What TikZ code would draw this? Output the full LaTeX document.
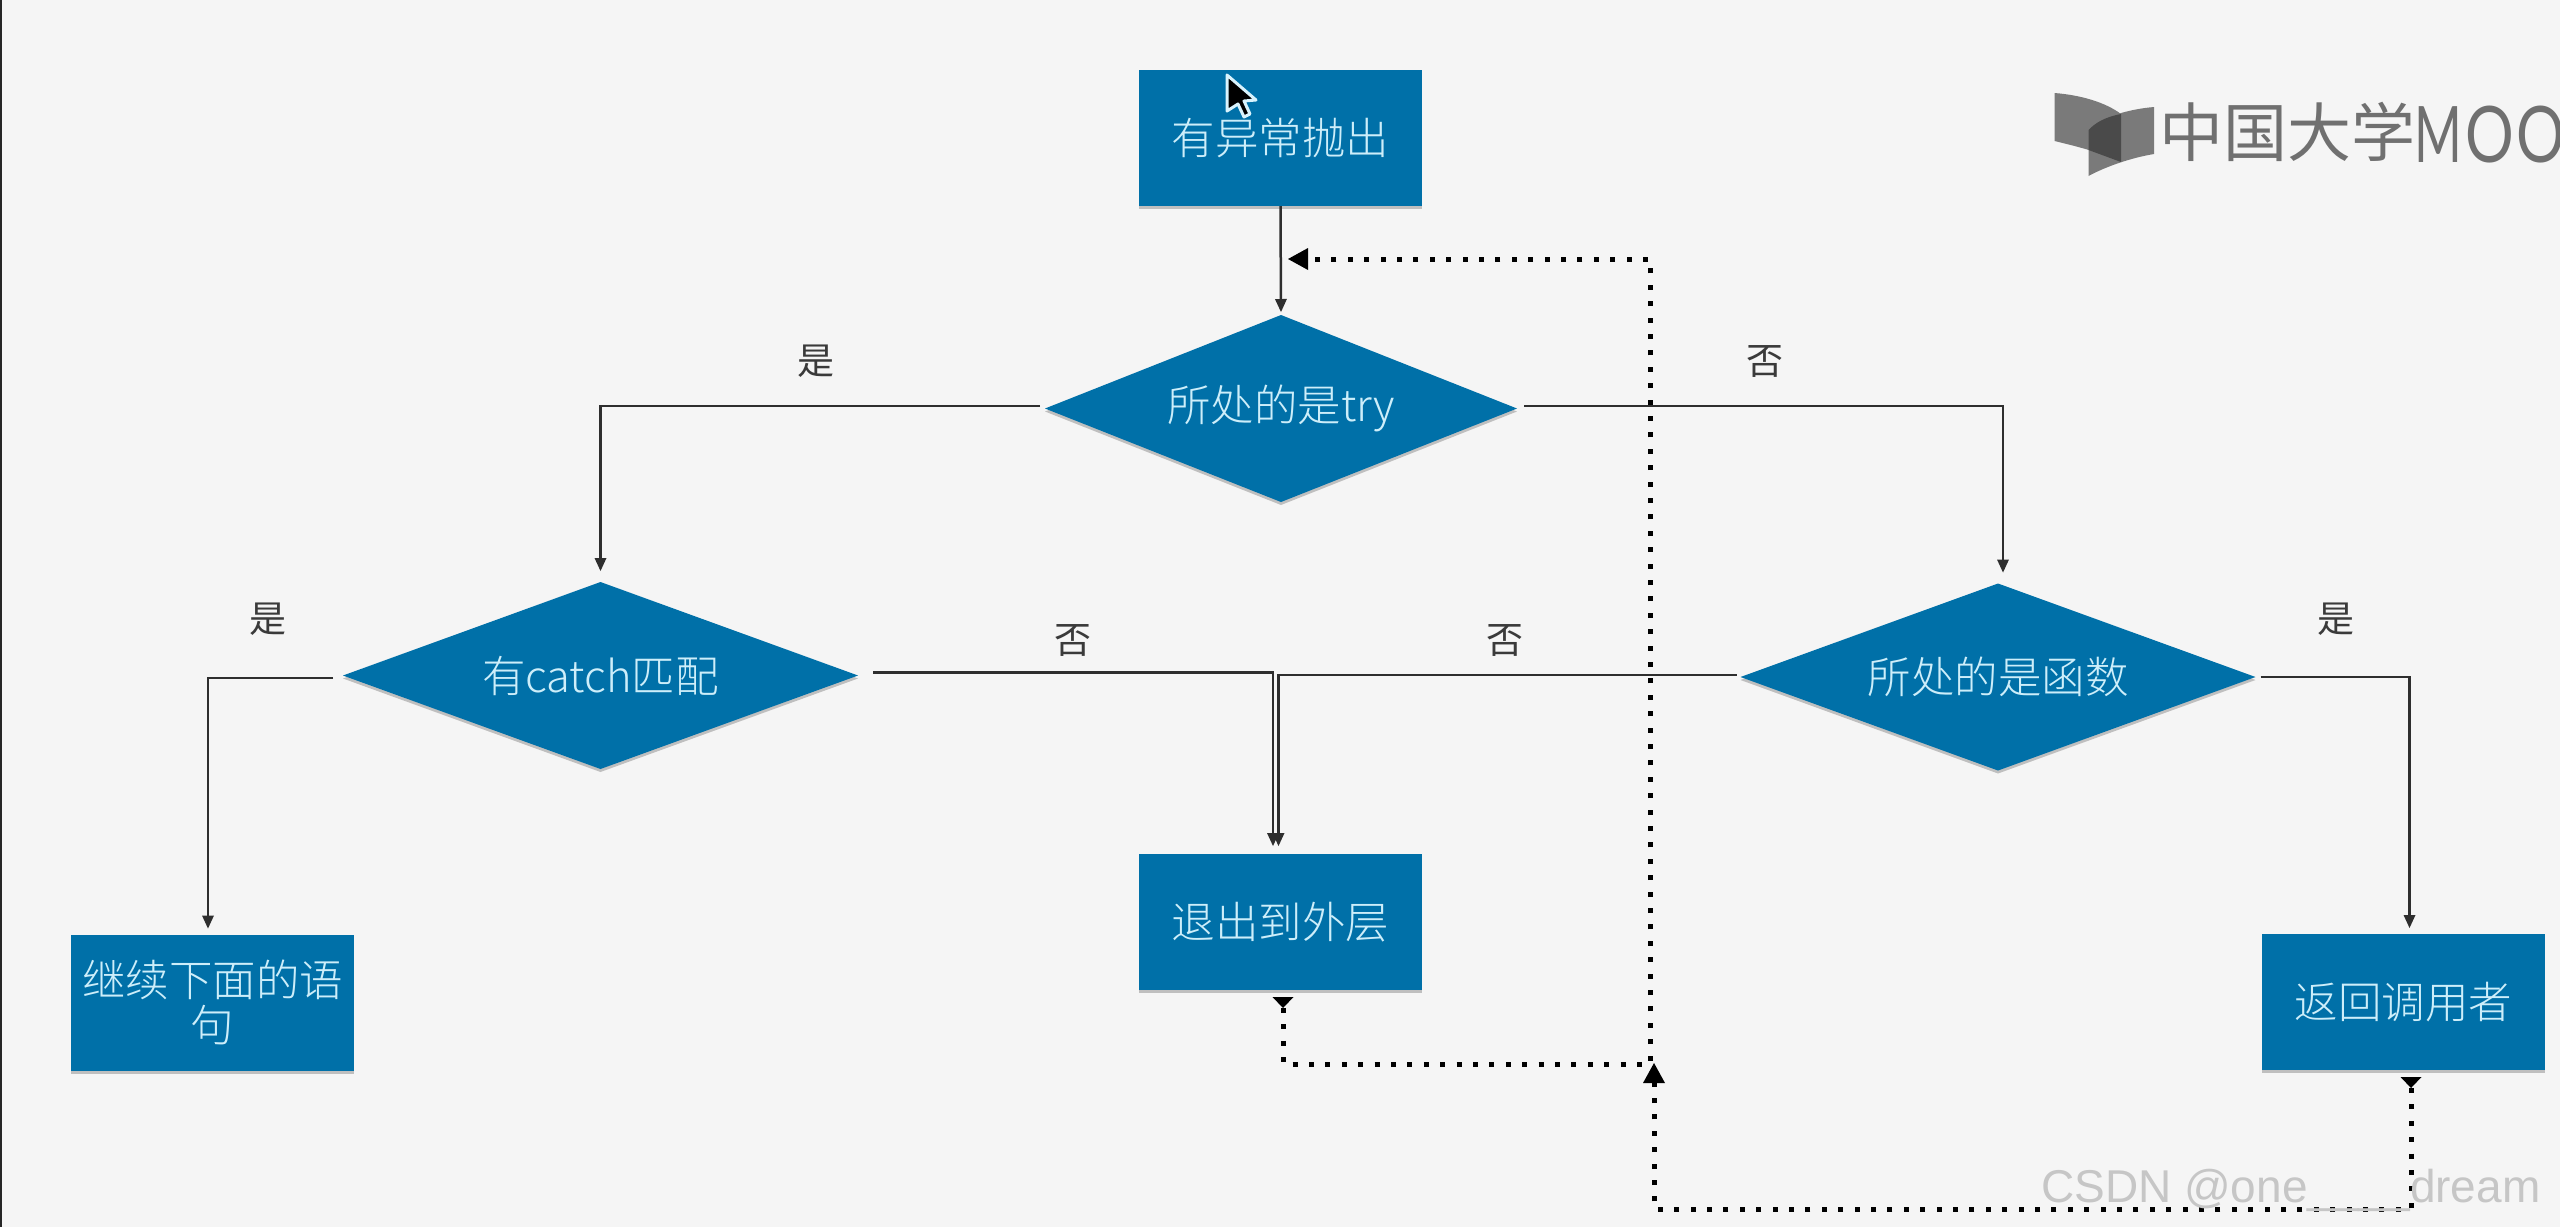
\documentclass[tikz,border=0pt]{standalone}
\usepackage{fontspec}
\usetikzlibrary{arrows.meta,shapes.geometric,shadows,calc}
\newfontfamily\cjk[UprightFont=* Light]{Noto Sans CJK SC}
\newfontfamily\cjkreg{Noto Sans CJK SC}
\newfontfamily\markfont{Liberation Sans}
\newfontfamily\logofont{Lato}
\definecolor{bgc}{HTML}{F5F5F5}
\definecolor{boxc}{HTML}{0070A8}
\definecolor{txtc}{HTML}{CDEEFA}
\definecolor{linec}{HTML}{2E2E2E}
\definecolor{labc}{HTML}{3A3A3A}
\definecolor{logoc}{HTML}{707070}
\definecolor{wing}{HTML}{7A7A7A}
\definecolor{wingd}{HTML}{4A4A4A}
\definecolor{markc}{HTML}{C6C6C6}
\tikzset{
  shapebase/.style={fill=boxc,text=txtc,inner sep=0pt,outer sep=0pt,
    font=\cjk\fontsize{43.5}{45}\selectfont,align=center,
    drop shadow={shadow xshift=0pt,shadow yshift=-3pt,opacity=.22,fill=black}},
  procbox/.style={shapebase,rectangle,minimum width=283pt,minimum height=136pt},
  decision/.style={shapebase,diamond,aspect=2.75},
  flow/.style={draw=linec,line width=2.5pt,-{Triangle[length=13pt,width=12pt,line width=0pt]}},
  loopline/.style={draw=black,line width=5pt,dash pattern=on 5pt off 11.4pt},
  looptail/.style={{Triangle[reversed,length=11pt,width=21pt,line width=0pt]}-{Triangle[length=20pt,width=22pt,line width=0pt]}},
  lab/.style={font=\cjkreg\fontsize{37}{37}\selectfont,text=labc,inner sep=0pt}
}
\begin{document}
\begin{tikzpicture}[x=1pt,y=-1pt]
\useasboundingbox (0,0) rectangle (2560,1227);
\fill[bgc] (0,0) rectangle (2560,1227);
\fill[black!85] (0,0) rectangle (2,1227);

% nodes
\node[procbox] (start) at (1280.5,138) {有异常抛出};
\node[decision,minimum width=472pt,minimum height=187pt] (try) at (1281,408.5) {所处的是try};
\node[decision,minimum width=515pt,minimum height=187pt] (catch) at (600.5,675.5) {有catch匹配};
\node[decision,minimum width=515pt,minimum height=187pt] (func) at (1998,677) {所处的是函数};
\node[procbox] (cont) at (212.5,1002.5) {继续下面的语\\句};
\node[procbox] (exit) at (1280.5,922) {退出到外层};
\node[procbox] (ret) at (2403.5,1002) {返回调用者};

% named free ends
\coordinate (topin) at (1288,259);
\coordinate (corner) at (1650,259);
\coordinate (midin) at (1654,1063);

% dotted loops
\draw[loopline,looptail] ([xshift=7.5pt,yshift=-7pt]ret.south) -- ++(0,132) -| (midin);
\draw[loopline,looptail] ([xshift=2.5pt,yshift=-7pt]exit.south) |- (1650,1064) -- (corner) -- (topin);

% solid connectors
\draw[flow,shorten >=3pt] (start.south) -- (try.north);
\draw[flow,shorten <=5pt,shorten >=11pt] ([yshift=2.5pt]try.west) -| (catch.north);
\draw[flow,shorten <=7pt,shorten >=11pt] ([yshift=2.5pt]try.east) -| ([xshift=5pt]func.north);
\draw[flow,shorten <=10pt,shorten >=6pt] ([yshift=-2.5pt]catch.west) -| ([xshift=-4.5pt]cont.north);
\draw[flow,shorten <=15pt,shorten >=8pt] ([yshift=3pt]catch.east) -| ([xshift=-7.5pt]exit.north);
\draw[flow,shorten <=4pt,shorten >=8pt] ([yshift=2pt]func.west) -| ([xshift=-2pt]exit.north);
\draw[flow,shorten <=5pt,shorten >=6pt] (func.east) -| ([xshift=6pt]ret.north);

% labels
\node[lab] (l1) at (816,361) {是};
\node[lab] (l2) at (1765,361) {否};
\node[lab] (l3) at (268,619) {是};
\node[lab] (l4) at (1073,640) {否};
\node[lab] (l5) at (1505,640) {否};
\node[lab] (l6) at (2336,619) {是};

% cursor
\filldraw[fill=black,draw=white!85!cyan,line width=3pt,line join=round]
  (1227,75) -- (1227,111) -- (1238,104) -- (1244,117) -- (1250,114) -- (1244,101) -- (1256,100) -- cycle;

% logo
\fill[wing] (2054.5,93) .. controls (2080,95) and (2105,102) .. (2121,114) -- (2121,162)
  .. controls (2100,152) and (2075,146) .. (2054.5,141) -- cycle;
\fill[wing] (2154,107) .. controls (2130,109) and (2100,117) .. (2088.5,130) -- (2088.5,176)
  .. controls (2105,167) and (2130,158) .. (2154,154) -- cycle;
\fill[wingd] (2121,114) .. controls (2105,117) and (2095,123) .. (2088.5,130) -- (2088.5,150) -- (2121,162) -- cycle;
\node[inner sep=0pt,text=logoc,font=\cjkreg\fontsize{64}{64}\selectfont] (logocn) at (2287,132) {中国大学};
\begin{scope}
\clip (2400,90) rectangle (2560,180);
\node[anchor=base west,inner sep=0pt,text=logoc,font=\logofont\fontsize{78}{78}\selectfont] (logoen) at (2414,162) {\scalebox{.66}[1]{M}\kern3pt\scalebox{.78}[1]{O}\kern3pt\scalebox{.78}[1]{O}};
\end{scope}

% watermark
\node[anchor=base west,inner sep=0pt,text=markc,font=\markfont\fontsize{46}{46}\selectfont] (mark) at (2041,1202) {CSDN @one\_\_\_\_dream};
\end{tikzpicture}
\end{document}
